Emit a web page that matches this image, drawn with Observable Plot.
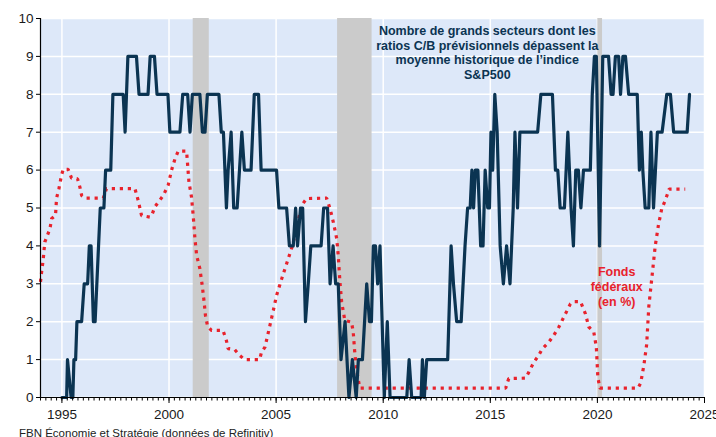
<!DOCTYPE html>
<html><head><meta charset="utf-8">
<script src="https://cdn.jsdelivr.net/npm/d3@7"></script>
<script src="https://cdn.jsdelivr.net/npm/@observablehq/plot@0.6"></script>
<style>
body{margin:0;background:#fff;font-family:"Liberation Sans",Arial,sans-serif;}
#caption{font-size:11.5px;color:#222;padding-left:19px;line-height:13px;white-space:nowrap;}
</style></head><body>
<div id="chart"></div>
<div id="caption">FBN Économie et Stratégie (données de Refinitiv)</div>
<script>
// Nombre de grands secteurs (ratio C/B prévisionnel > moyenne historique S&P500)
const sectorYears = [
  1995.00,1995.22,1995.26,1995.43,1995.51,1995.56,1995.64,1995.70,1995.92,1996.04,
  1996.20,1996.28,1996.36,1996.47,1996.55,1996.79,1996.96,1997.04,1997.28,1997.38,
  1997.86,1997.95,1998.08,1998.48,1998.60,1999.02,1999.12,1999.32,1999.44,1999.95,
  2000.04,2000.51,2000.64,2000.87,2000.98,2001.09,2001.44,2001.56,2001.68,2001.79,
  2002.33,2002.44,2002.54,2002.68,2002.76,2002.90,2003.02,2003.18,2003.40,2003.52,
  2003.83,2003.98,2004.18,2004.30,2005.02,2005.13,2005.49,2005.62,2005.80,2005.91,
  2006.00,2006.14,2006.24,2006.37,2006.50,2006.62,2007.10,2007.22,2007.40,2007.52,
  2007.66,2007.78,2007.90,2008.03,2008.22,2008.40,2008.56,2008.74,2008.84,2009.03,
  2009.23,2009.36,2009.45,2009.54,2009.64,2009.74,2009.85,2010.05,2010.19,2010.32,
  2011.10,2011.21,2011.33,2011.77,2011.83,2011.92,2012.03,2013.01,2013.17,2013.28,
  2013.43,2013.64,2013.82,2013.94,2014.06,2014.14,2014.22,2014.30,2014.42,2014.55,
  2014.66,2014.76,2014.88,2014.96,2015.03,2015.11,2015.21,2015.32,2015.46,2015.61,
  2015.76,2015.92,2016.07,2016.15,2016.27,2016.38,2017.21,2017.36,2017.90,2018.04,
  2018.15,2018.26,2018.46,2018.62,2018.77,2018.88,2018.99,2019.11,2019.23,2019.35,
  2019.67,2019.76,2019.86,2019.95,2020.10,2020.25,2020.52,2020.64,2020.73,2020.84,
  2020.99,2021.08,2021.19,2021.31,2021.46,2021.86,2021.96,2022.05,2022.12,2022.23,
  2022.40,2022.50,2022.62,2022.80,2023.02,2023.24,2023.41,2023.56,2024.19,2024.30
];
const sectorCounts = [
  0,0,1,0,0,1,1,2,2,3,
  3,4,4,2,2,5,5,6,6,8,
  8,7,9,9,8,8,9,9,8,8,
  7,7,8,8,7,8,8,7,7,8,
  8,7,7,5,6,7,5,5,7,6,
  6,8,8,6,6,5,5,4,4,5,
  4,5,5,2,3,4,4,5,5,3,
  4,3,3,1,2,0,1,0,1,1,
  3,2,2,4,4,3,4,0,2,0,
  0,1,0,0,1,0,1,1,4,3,
  2,2,4,5,5,6,5,6,6,4,
  4,6,5,5,7,6,8,7,4,3,
  4,3,5,7,5,7,7,8,8,6,
  6,5,5,7,5,4,6,6,5,6,
  6,8,9,9,4,9,9,8,8,9,
  9,8,9,9,8,8,6,7,6,5,
  5,7,5,7,7,8,8,7,7,8
];
// Fonds fédéraux (en %)
const fedYears = [
  1994.00,1994.05,1994.13,1994.20,1994.44,1994.52,1994.70,1994.75,1994.86,1994.98,
  1995.06,1995.29,1995.45,1995.73,1995.84,1995.92,1996.07,1996.93,1997.08,1998.41,
  1998.56,1998.72,1999.11,1999.19,1999.34,1999.73,1999.96,2000.12,2000.28,2000.43,
  2000.82,2000.87,2000.93,2001.05,2001.13,2001.21,2001.29,2001.44,2001.55,2001.64,
  2001.70,2001.80,2001.98,2002.52,2002.68,2002.76,2003.07,2003.30,2003.53,2004.23,
  2004.32,2004.48,2004.71,2004.87,2005.02,2005.26,2005.49,2005.72,2005.88,2006.04,
  2006.19,2006.43,2007.36,2007.52,2007.67,2007.83,2007.90,2007.98,2008.06,2008.21,
  2008.52,2008.60,2008.67,2008.75,2008.83,2008.91,2015.72,2015.86,2016.64,2016.80,
  2017.03,2017.26,2017.42,2017.73,2017.96,2018.20,2018.51,2018.74,2018.90,2019.21,
  2019.44,2019.60,2019.83,2019.95,2020.02,2020.11,2021.90,2022.02,2022.17,2022.30,
  2022.40,2022.55,2022.70,2022.85,2023.00,2023.20,2023.35,2024.10
];
const fedRates = [
  3.05,3.30,3.66,4.10,4.45,4.72,4.80,5.26,5.51,5.86,
  6.02,6.02,5.79,5.77,5.55,5.33,5.26,5.26,5.51,5.51,
  5.20,4.80,4.76,4.80,5.03,5.33,5.60,6.00,6.30,6.50,
  6.50,6.13,5.69,5.29,4.80,4.19,3.75,3.40,2.96,2.52,
  2.17,1.88,1.77,1.77,1.50,1.29,1.26,1.11,1.00,1.00,
  1.20,1.33,1.90,2.30,2.69,3.13,3.53,3.93,4.28,4.67,
  5.07,5.25,5.26,4.98,4.63,4.19,3.75,3.05,2.52,2.03,
  1.99,1.73,1.20,0.76,0.49,0.25,0.25,0.50,0.51,0.67,
  0.93,1.11,1.28,1.46,1.64,1.86,2.21,2.47,2.53,2.53,
  2.21,1.86,1.73,1.33,0.54,0.25,0.25,0.38,0.85,1.40,
  2.40,3.20,4.00,4.55,4.97,5.25,5.50,5.50
];
// Récessions
const recessionStart = [2001.13, 2007.87, 2020.02];
const recessionEnd   = [2001.88, 2009.48, 2020.24];
// Axes
const yTicks = [0,1,2,3,4,5,6,7,8,9,10];
const yearTicks = [1995,2000,2005,2010,2015,2020,2025];
const minorTicks = d3.range(1994, 2025.001, 0.25);
// Annotations
const sectorNote = ["Nombre de grands secteurs dont les\nratios C/B prévisionnels dépassent la\nmoyenne historique de l’indice\nS&P500"];
const sectorNoteAt = {x: 2014.86, y: 9.85};
const fedNote = ["Fonds\nfédéraux\n(en %)"];
const fedNoteAt = {x: 2020.9, y: 3.49};

const sectors = sectorYears.map((x, i) => ({x, y: sectorCounts[i]}));
const fed = fedYears.map((x, i) => ({x, y: fedRates[i]}));
const bands = recessionStart.map((s, i) => ({x1: s, x2: recessionEnd[i]}));

const chart = Plot.plot({
  width: 716, height: 427,
  marginLeft: 40, marginRight: 12, marginTop: 18, marginBottom: 30,
  style: {fontFamily: "'Liberation Sans', Arial, sans-serif", background: "#fff", color: "#1a1a1a", overflow: "visible"},
  x: {domain: [1994, 2025], label: null},
  y: {domain: [0, 10], label: null},
  marks: [
    Plot.frame({fill: "#dde8f9", stroke: null}),
    Plot.gridY(yTicks, {stroke: "#fff", strokeOpacity: 1, strokeWidth: 1.5}),
    Plot.gridX(yearTicks, {stroke: "#fff", strokeOpacity: 1, strokeWidth: 1.5}),
    Plot.rect(bands, {x1: "x1", x2: "x2", fill: "#cbcbcb"}),
    Plot.line(fed, {x: "x", y: "y", stroke: "#e8222c", strokeWidth: 3.2, strokeDasharray: "3.2 4.8", strokeLinecap: "butt", strokeLinejoin: "miter"}),
    Plot.line(sectors, {x: "x", y: "y", stroke: "#0b3452", strokeWidth: 3.2, strokeLinejoin: "round"}),
    Plot.text(sectorNote, {x: () => sectorNoteAt.x, y: () => sectorNoteAt.y, text: d => d, lineAnchor: "top", textAnchor: "middle", fontSize: 12.5, fontWeight: "bold", fill: "#0b3452", lineHeight: 1.19}),
    Plot.text(fedNote, {x: () => fedNoteAt.x, y: () => fedNoteAt.y, text: d => d, lineAnchor: "top", textAnchor: "middle", fontSize: 12.5, fontWeight: "bold", fill: "#e8222c", lineHeight: 1.19}),
    Plot.ruleY([0], {stroke: "#000", strokeWidth: 1.2}),
    Plot.ruleX([1994], {stroke: "#000", strokeWidth: 1.2}),
    Plot.axisY(yTicks, {tickSize: 4, tickPadding: 3, fontSize: 13.5, tickFormat: d3.format("d"), stroke: "#000", fill: "#1a1a1a", label: null}),
    Plot.axisX(minorTicks, {tickSize: 3.5, tickFormat: () => "", stroke: "#000", label: null}),
    Plot.axisX(yearTicks, {tickSize: 6, tickPadding: 6, fontSize: 13.5, tickFormat: d3.format("d"), stroke: "#000", fill: "#1a1a1a", label: null})
  ]
});
document.getElementById("chart").appendChild(chart);
</script></body></html>
